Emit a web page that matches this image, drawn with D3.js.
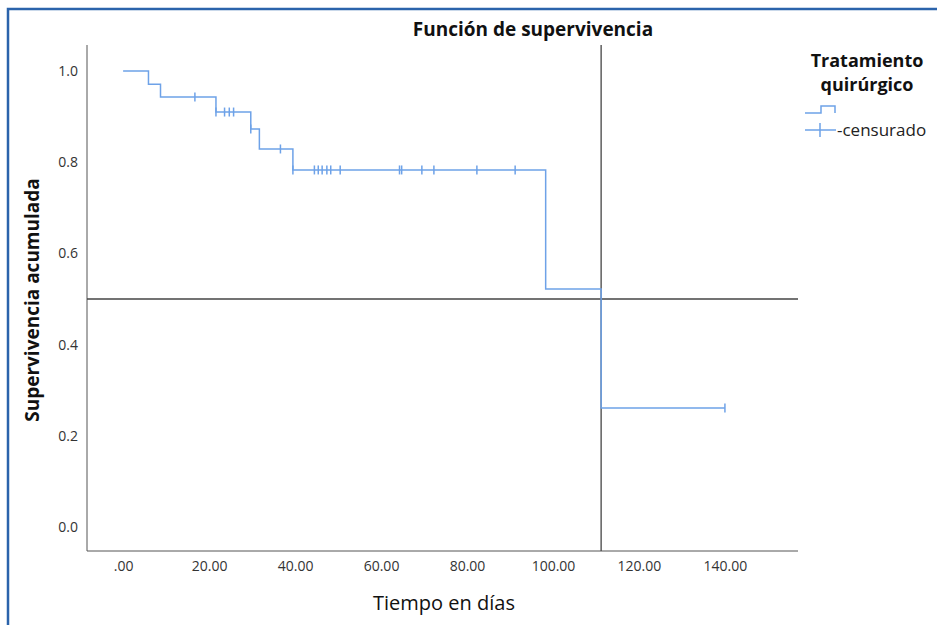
<!DOCTYPE html>
<html>
<head>
<meta charset="utf-8">
<script src="https://cdn.jsdelivr.net/npm/d3@7"></script>
<style>
  body { margin: 0; background: #fff; }
  text { font-family: "Open Sans", "DejaVu Sans", sans-serif; }
</style>
</head>
<body>
<div id="chart"></div>
<script>
// survival steps: time at which the curve drops, and the new level
const stepTimes = [0, 5.9, 8.7, 21.6, 29.7, 31.7, 39.5, 98.3, 111.2];
const stepSurv = [1.0, 0.971, 0.943, 0.910, 0.873, 0.829, 0.783, 0.522, 0.261];
const lastTime = 140;

// censored observations (time, level)
const censorTimes = [16.7, 21.6, 23.6, 24.7, 25.7, 29.7, 36.6, 39.5, 44.5, 45.4, 46.3, 47.4, 48.3, 50.5,
  64.3, 64.8, 69.5, 72.3, 82.3, 91.2, 140];
const censorSurv = [0.943, 0.910, 0.910, 0.910, 0.910, 0.873, 0.829, 0.783, 0.783, 0.783, 0.783, 0.783, 0.783, 0.783,
  0.783, 0.783, 0.783, 0.783, 0.783, 0.783, 0.261];

const xTicks = [0, 20, 40, 60, 80, 100, 120, 140];
const yTicks = [0.0, 0.2, 0.4, 0.6, 0.8, 1.0];
const medianSurv = 0.5;
const medianTime = 111.2;

const width = 937, height = 625;
const plot = { left: 87, right: 798, top: 45, bottom: 551 };

const svg = d3.select("#chart").append("svg")
  .attr("width", width).attr("height", height);

// blue frame (screenshot border)
svg.append("path")
  .attr("d", `M8,${height} L8,9 L${width},9`)
  .attr("fill", "none").attr("stroke", "#2b63ab").attr("stroke-width", 2.5);

const x = d3.scaleLinear().domain([-8.4, 157]).range([plot.left, plot.right]);
const y = d3.scaleLinear().domain([0, 1]).range([527, 71]);

// axes
const xAxis = svg.append("g")
  .attr("transform", `translate(0,${plot.bottom})`)
  .call(d3.axisBottom(x).tickValues(xTicks).tickSize(0).tickPadding(10)
    .tickFormat(d => d === 0 ? ".00" : d3.format(".2f")(d)));
xAxis.select(".domain").attr("d", `M${plot.left},0H${plot.right}`).attr("stroke", "#555");
xAxis.selectAll("text").attr("font-size", 14).attr("fill", "#333");

const yAxis = svg.append("g")
  .attr("transform", `translate(${plot.left},0)`)
  .call(d3.axisLeft(y).tickValues(yTicks).tickSize(0).tickPadding(9).tickFormat(d3.format(".1f")));
yAxis.select(".domain").attr("d", `M0,${plot.top}V${plot.bottom}`).attr("stroke", "#555");
yAxis.selectAll("text").attr("font-size", 14).attr("fill", "#333");

// reference lines for median
svg.append("line")
  .attr("x1", plot.left).attr("x2", plot.right)
  .attr("y1", y(medianSurv)).attr("y2", y(medianSurv))
  .attr("stroke", "#444").attr("stroke-width", 1.3);
svg.append("line")
  .attr("x1", x(medianTime)).attr("x2", x(medianTime))
  .attr("y1", plot.top).attr("y2", plot.bottom)
  .attr("stroke", "#444").attr("stroke-width", 1.3);

// step curve
const steps = stepTimes.map((t, i) => [t, stepSurv[i]]);
steps.push([lastTime, stepSurv[stepSurv.length - 1]]);
const line = d3.line().x(d => x(d[0])).y(d => y(d[1])).curve(d3.curveStepAfter);
svg.append("path")
  .datum(steps)
  .attr("d", line)
  .attr("fill", "none").attr("stroke", "#6ea2e8").attr("stroke-width", 1.5);

// censor marks
svg.selectAll(".censor")
  .data(censorTimes.map((t, i) => [t, censorSurv[i]]))
  .join("line")
  .attr("class", "censor")
  .attr("x1", d => x(d[0])).attr("x2", d => x(d[0]))
  .attr("y1", d => y(d[1]) - 4.5).attr("y2", d => y(d[1]) + 4.5)
  .attr("stroke", "#6ea2e8").attr("stroke-width", 1.5);

// titles
svg.append("text")
  .attr("x", 533).attr("y", 36).attr("text-anchor", "middle")
  .attr("font-size", 19).attr("font-weight", "bold").attr("fill", "#111")
  .text("Función de supervivencia");

svg.append("text")
  .attr("x", 444).attr("y", 610).attr("text-anchor", "middle")
  .attr("font-size", 20).attr("fill", "#111")
  .text("Tiempo en días");

svg.append("text")
  .attr("transform", "translate(39,300) rotate(-90)")
  .attr("text-anchor", "middle")
  .attr("font-size", 19).attr("font-weight", "bold").attr("fill", "#111")
  .text("Supervivencia acumulada");

// legend
const legend = svg.append("g");
legend.append("text")
  .attr("x", 867).attr("y", 67).attr("text-anchor", "middle")
  .attr("font-size", 18).attr("font-weight", "bold").attr("fill", "#111")
  .text("Tratamiento");
legend.append("text")
  .attr("x", 867).attr("y", 91).attr("text-anchor", "middle")
  .attr("font-size", 18).attr("font-weight", "bold").attr("fill", "#111")
  .text("quirúrgico");
legend.append("path")
  .attr("d", "M805,113H821V106H835V113")
  .attr("fill", "none").attr("stroke", "#6ea2e8").attr("stroke-width", 1.5);
legend.append("path")
  .attr("d", "M805,130H836M820,123V137")
  .attr("fill", "none").attr("stroke", "#6ea2e8").attr("stroke-width", 1.5);
legend.append("text")
  .attr("x", 837).attr("y", 136)
  .attr("font-size", 17).attr("fill", "#222")
  .text("-censurado");
</script>
</body>
</html>
